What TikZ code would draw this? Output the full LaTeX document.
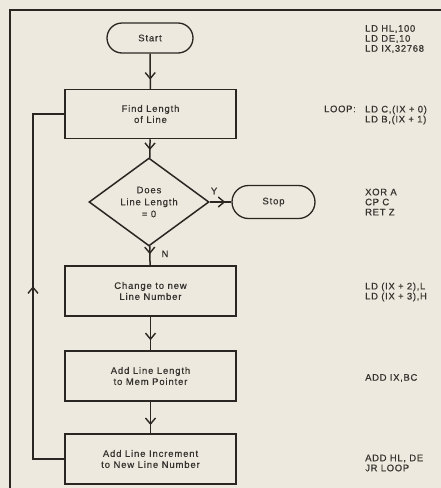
\documentclass[tikz,border=0pt]{standalone}
\usepackage{fontspec}
\setmainfont{Liberation Sans}
\newfontfamily\boxfont{Liberation Sans}[LetterSpace=9,FakeBold=0.5]
\newfontfamily\codefont{Liberation Sans}[LetterSpace=7,FakeBold=0.5]
\usetikzlibrary{arrows.meta,decorations.markings,shapes.geometric,shapes.misc}
\definecolor{bg}{HTML}{EDE9DE}
\definecolor{ink}{HTML}{2A2723}
\definecolor{txt}{HTML}{35332F}
\begin{document}
\begin{tikzpicture}[x=1pt,y=-1pt,
  box/.style={draw=ink, line width=1.5pt, minimum width=171pt, minimum height=49pt, align=center, inner sep=0pt, text=txt, font=\boxfont\fontsize{9.5}{11}\selectfont},
  term/.style={draw=ink, line width=1.3pt, rounded rectangle, minimum height=30pt, inner sep=0pt, text=txt, font=\boxfont\fontsize{9.5}{11}\selectfont},
  decision/.style={draw=ink, line width=1.5pt, diamond, minimum width=120pt, minimum height=74pt, inner sep=0pt, align=center, text=txt, font=\boxfont\fontsize{9.5}{12}\selectfont},
  code/.style={align=left, inner sep=0pt, text=txt, font=\codefont\fontsize{9.5}{10}\selectfont},
  lbl/.style={inner sep=0pt, text=txt, font=\boxfont\fontsize{9.5}{11}\selectfont},
  flow/.style={draw=ink, line width=1.5pt},
  midarrow/.style={postaction={decorate}, decoration={markings, mark=at position #1 with {\arrow[ink, line width=1.4pt]{Straight Barb[length=6pt,width=10pt]}}}}
]
\fill[bg] (0,0) rectangle (441,488);
\useasboundingbox (0,0) rectangle (441,488);
% frame
\draw[ink, line width=2pt] (10,488) -- (10,10) -- (441,10);

% flowchart
\node[term, minimum width=86pt] (start) at (150,38) {Start};
\node[box] (b1) at (150.5,114) {Find Length\\of Line};
\node[decision] (dec) at (149,202) {Does\\Line Length\\= 0};
\node[term, minimum width=83pt, minimum height=33pt] (stop) at (273.5,202) {Stop};
\node[box, minimum height=50pt] (b3) at (150.5,291) {Change to new\\Line Number};
\node[box, minimum height=50pt] (b4) at (150.5,376) {Add Line Length\\to Mem Pointer};
\node[box, minimum height=50pt] (b5) at (150.5,459) {Add Line Increment\\to New Line Number};
\coordinate (loopx) at (33,459);

\draw[flow, midarrow=0.74] (start) -- (b1);
\draw[flow, midarrow=0.58] (b1) -- (dec);
\draw[flow, midarrow=0.72] (dec) -- (stop) node[lbl, pos=0.2, above=7pt] {Y};
\draw[flow, midarrow=0.42] (dec) -- (b3) node[lbl, pos=0.4, right=11pt] {N};
\draw[flow, midarrow=0.7] (b3) -- (b4);
\draw[flow, midarrow=0.74] (b4) -- (b5);
\draw[flow, midarrow=204pt] (b5.west) -- (loopx) |- (b1.west);

% code column
\node[code, anchor=west] (c1) at (365,39) {LD HL,100\\LD DE,10\\LD IX,32768};
\node[code, anchor=west] (c2) at (365,115) {LD C,(IX + 0)\\LD B,(IX + 1)};
\node[code, anchor=north east] (loop) at ([xshift=-9pt]c2.north west) {LOOP:};
\node[code, anchor=west] (c3) at (365,202) {XOR A\\CP C\\RET Z};
\node[code, anchor=west] (c4) at (365,292) {LD (IX + 2),L\\LD (IX + 3),H};
\node[code, anchor=west] (c5) at (365,378) {ADD IX,BC};
\node[code, anchor=west] (c6) at (365,463) {ADD HL, DE\\JR LOOP};
\end{tikzpicture}
\end{document}
